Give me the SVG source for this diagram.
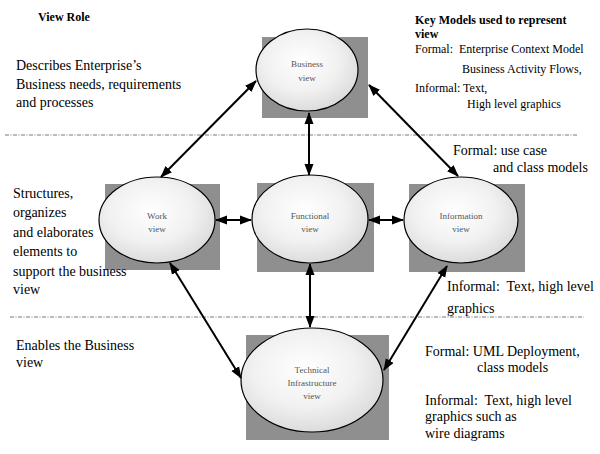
<svg xmlns="http://www.w3.org/2000/svg" width="600" height="454" viewBox="0 0 600 454">
<style>
.bg{fill:#8f8f8f}
.el{fill:url(#g);stroke:#000;stroke-width:1.2}
.nl{font-family:"Liberation Serif",serif;font-size:9px;fill:#555;text-anchor:middle}
.t{font-family:"Liberation Serif",serif;font-size:14px;fill:#000}
.s{font-family:"Liberation Serif",serif;font-size:12px;fill:#000}
.b{font-weight:bold}
.dl{stroke:#777;stroke-width:1;stroke-dasharray:4 1.5 1 1.5;fill:none}
.cn{stroke:#000;stroke-width:2;fill:none;marker-start:url(#ah);marker-end:url(#ah)}
</style>
<defs>
<radialGradient id="g" cx="0.45" cy="0.4" r="0.65">
<stop offset="0" stop-color="#ffffff"/>
<stop offset="0.55" stop-color="#f1f1f1"/>
<stop offset="1" stop-color="#d8d8d8"/>
</radialGradient>
<marker id="ah" markerUnits="userSpaceOnUse" markerWidth="13" markerHeight="12" viewBox="0 0 13 12" refX="11" refY="6" orient="auto-start-reverse">
<path d="M0,1.5 L12,6 L0,10.5 Z" fill="#000"/>
</marker>
</defs>

<g id="dividers">
<line class="dl" x1="5" y1="135" x2="578" y2="135"/>
<line class="dl" x1="10" y1="317" x2="584" y2="317"/>
</g>

<g id="business">
<rect class="bg" x="262" y="37" width="106" height="81"/>
<ellipse class="el" cx="307" cy="70" rx="51" ry="41"/>
<text class="nl" x="307" y="67">Business</text>
<text class="nl" x="307" y="81">view</text>
</g>

<g id="work">
<rect class="bg" x="105" y="184" width="115" height="86"/>
<ellipse class="el" cx="157" cy="220" rx="58" ry="43"/>
<text class="nl" x="157" y="219">Work</text>
<text class="nl" x="157" y="232">view</text>
</g>

<g id="functional">
<rect class="bg" x="257" y="183" width="117" height="89"/>
<ellipse class="el" cx="310" cy="219" rx="58" ry="44"/>
<text class="nl" x="310" y="219">Functional</text>
<text class="nl" x="310" y="232">view</text>
</g>

<g id="information">
<rect class="bg" x="409" y="184" width="116" height="88"/>
<ellipse class="el" cx="461" cy="220" rx="57" ry="43"/>
<text class="nl" x="461" y="219">Information</text>
<text class="nl" x="461" y="232">view</text>
</g>

<g id="technical">
<rect class="bg" x="246" y="335" width="143" height="105"/>
<ellipse class="el" cx="312" cy="380" rx="71" ry="52"/>
<text class="nl" x="312" y="373">Technical</text>
<text class="nl" x="312" y="386">Infrastructure</text>
<text class="nl" x="312" y="399">view</text>
</g>

<g id="connectors">
<line class="cn" x1="161" y1="177" x2="256" y2="81"/>
<line class="cn" x1="309" y1="113" x2="309" y2="175"/>
<line class="cn" x1="369" y1="85" x2="458" y2="176"/>
<line class="cn" x1="216" y1="220" x2="251" y2="220"/>
<line class="cn" x1="369" y1="220" x2="403" y2="220"/>
<line class="cn" x1="310" y1="264" x2="310" y2="327"/>
<line class="cn" x1="170" y1="263" x2="241" y2="378"/>
<line class="cn" x1="447" y1="266" x2="384" y2="370"/>
</g>

<g id="left-text">
<text class="s b" x="38" y="21">View Role</text>
<text class="t" x="16" y="70">Describes Enterprise’s</text>
<text class="t" x="16" y="89">Business needs, requirements</text>
<text class="t" x="16" y="107">and processes</text>
<text class="t" x="13" y="198">Structures,</text>
<text class="t" x="13" y="217">organizes</text>
<text class="t" x="13" y="237">and elaborates</text>
<text class="t" x="13" y="256">elements to</text>
<text class="t" x="13" y="276">support the business</text>
<text class="t" x="13" y="294">view</text>
<text class="t" x="16" y="350">Enables the Business</text>
<text class="t" x="16" y="367">view</text>
</g>

<g id="right-text">
<text class="s b" x="415" y="24">Key Models used to represent</text>
<text class="s b" x="415" y="38">view</text>
<text class="s" x="415" y="53" xml:space="preserve">Formal:  Enterprise Context Model</text>
<text class="s" x="462" y="73">Business Activity Flows,</text>
<text class="s" x="415" y="92">Informal: Text,</text>
<text class="s" x="467" y="108">High level graphics</text>
<text class="t" x="453" y="155">Formal: use case</text>
<text class="t" x="493" y="172">and class models</text>
<text class="t" x="447" y="291" xml:space="preserve">Informal:  Text, high level</text>
<text class="t" x="447" y="313">graphics</text>
<text class="t" x="425" y="356">Formal: UML Deployment,</text>
<text class="t" x="477" y="372">class models</text>
<text class="t" x="425" y="405" xml:space="preserve">Informal:  Text, high level</text>
<text class="t" x="425" y="421">graphics such as</text>
<text class="t" x="425" y="438">wire diagrams</text>
</g>
</svg>
